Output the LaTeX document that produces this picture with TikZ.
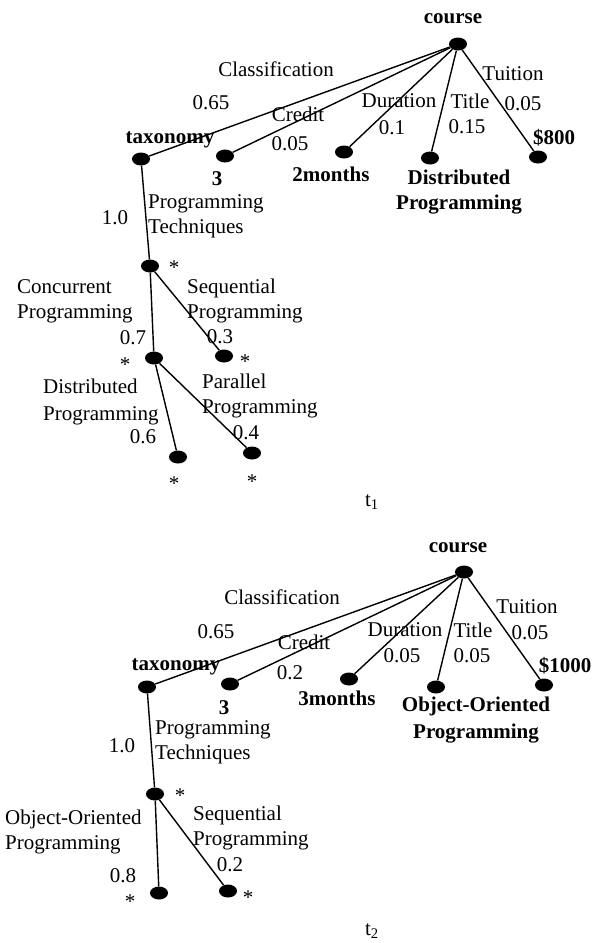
\documentclass[tikz,border=0pt]{standalone}
\usepackage{fontspec}
\setmainfont{Liberation Serif}
\usetikzlibrary{shapes.geometric}
\newcommand\fsz{\fontsize{21}{25}\selectfont}
\tikzset{
  dot/.style={ellipse, fill=black, draw=none, minimum width=18pt, minimum height=13pt, inner sep=0pt},
  lbl/.style={inner sep=0pt, anchor=base, font=\fsz},
  blbl/.style={inner sep=0pt, anchor=base, font=\fsz\bfseries},
  mlbl/.style={inner sep=0pt, anchor=north west, align=left, font=\fsz},
  edge/.style={line width=1.4pt}
}
\begin{document}
\begin{tikzpicture}[x=1pt,y=-1pt]
\useasboundingbox (0,0) rectangle (600,943);
% ---------------- Tree 1 ----------------
\node[dot] (c1) at (458,44) {};
\node[dot] (tax1) at (141,159) {};
\node[dot] (three1) at (225,156) {};
\node[dot] (dur1) at (344,152) {};
\node[dot] (tit1) at (430,158) {};
\node[dot] (tui1) at (538,157) {};
\node[dot] (pt1) at (150,266) {};
\node[dot] (cp1) at (154,358) {};
\node[dot] (sp1) at (224,356) {};
\node[dot] (dp1) at (178,457) {};
\node[dot] (pp1) at (252,453) {};
\draw[edge] (c1) -- (tax1);
\draw[edge] (c1) -- (three1);
\draw[edge] (c1) -- (dur1);
\draw[edge] (c1) -- (tit1);
\draw[edge] (c1) -- (tui1);
\draw[edge] (tax1) -- (pt1);
\draw[edge] (pt1) -- (cp1);
\draw[edge] (pt1) -- (sp1);
\draw[edge] (cp1) -- (dp1);
\draw[edge] (cp1) -- (pp1);
\node[blbl] (tc1) at (453,23) {course};
\node[blbl] (ttax1) at (170,143) {taxonomy};
\node[blbl] (tthree1) at (217,185) {3};
\node[blbl] (tdur1) at (331,181) {2months};
\node[inner sep=0pt, anchor=north, align=center, font=\fsz\bfseries] (ttit1) at (459,170) {Distributed\\Programming};
\node[blbl] (ttui1) at (554,144) {\$800};
\node[lbl] (l1a) at (276,76) {Classification};
\node[lbl] (l1b) at (211,109) {0.65};
\node[lbl] (l1c) at (298,121) {Credit};
\node[lbl] (l1d) at (290,150) {0.05};
\node[lbl] (l1e) at (399,107) {Duration};
\node[lbl] (l1f) at (392,134) {0.1};
\node[lbl] (l1g) at (470,108) {Title};
\node[lbl] (l1h) at (467,133) {0.15};
\node[lbl] (l1i) at (513,80) {Tuition};
\node[lbl] (l1j) at (523,110) {0.05};
\node[mlbl] (l1k) at (148,194) {Programming\\Techniques};
\node[lbl] (l1l) at (115,224) {1.0};
\node[lbl] (s1a) at (174,274) {*};
\node[mlbl] (l1m) at (17,279) {Concurrent\\Programming};
\node[lbl] (l1n) at (133,344) {0.7};
\node[mlbl] (l1o) at (187,279) {Sequential\\Programming};
\node[lbl] (l1p) at (220,343) {0.3};
\node[lbl] (s1b) at (125,371) {*};
\node[lbl] (s1c) at (245,368) {*};
\node[mlbl, font=\fontsize{21}{27}\selectfont] (l1q) at (43,379) {Distributed\\Programming};
\node[lbl] (l1r) at (143,443) {0.6};
\node[mlbl] (l1s) at (202,374) {Parallel\\Programming};
\node[lbl] (l1t) at (246,439) {0.4};
\node[lbl] (s1d) at (174,490) {*};
\node[lbl] (s1e) at (252,488) {*};
\node[lbl] (t1) at (372,506) {t\textsubscript{1}};
% ---------------- Tree 2 ----------------
\node[dot] (c2) at (464,572) {};
\node[dot] (tax2) at (147,687) {};
\node[dot] (three2) at (230,684) {};
\node[dot] (dur2) at (349,679) {};
\node[dot] (tit2) at (436,687) {};
\node[dot] (tui2) at (544,685) {};
\node[dot] (pt2) at (155,794) {};
\node[dot] (oo2) at (159,893) {};
\node[dot] (sp2) at (228,891) {};
\draw[edge] (c2) -- (tax2);
\draw[edge] (c2) -- (three2);
\draw[edge] (c2) -- (dur2);
\draw[edge] (c2) -- (tit2);
\draw[edge] (c2) -- (tui2);
\draw[edge] (tax2) -- (pt2);
\draw[edge] (pt2) -- (oo2);
\draw[edge] (pt2) -- (sp2);
\node[blbl] (tc2) at (458,552) {course};
\node[blbl] (ttax2) at (176,670) {taxonomy};
\node[blbl] (tthree2) at (224,714) {3};
\node[blbl] (tdur2) at (337,705) {3months};
\node[inner sep=0pt, anchor=north, align=center, font=\fontsize{21}{27}\selectfont\bfseries] (ttit2) at (476,697) {Object-Oriented\\Programming};
\node[blbl] (ttui2) at (565,672) {\$1000};
\node[lbl] (l2a) at (282,604) {Classification};
\node[lbl] (l2b) at (216,638) {0.65};
\node[lbl] (l2c) at (304,649) {Credit};
\node[lbl] (l2d) at (290,679) {0.2};
\node[lbl] (l2e) at (405,636) {Duration};
\node[lbl] (l2f) at (402,662) {0.05};
\node[lbl] (l2g) at (473,637) {Title};
\node[lbl] (l2h) at (472,662) {0.05};
\node[lbl] (l2i) at (527,613) {Tuition};
\node[lbl] (l2j) at (530,639) {0.05};
\node[mlbl] (l2k) at (155,720) {Programming\\Techniques};
\node[lbl] (l2l) at (122,752) {1.0};
\node[lbl] (s2a) at (180,802) {*};
\node[mlbl] (l2m) at (5,810) {Object-Oriented\\Programming};
\node[lbl] (l2n) at (123,882) {0.8};
\node[mlbl] (l2o) at (193,806) {Sequential\\Programming};
\node[lbl] (l2p) at (230,871) {0.2};
\node[lbl] (s2b) at (130,908) {*};
\node[lbl] (s2c) at (248,904) {*};
\node[lbl] (t2) at (372,935) {t\textsubscript{2}};
\end{tikzpicture}
\end{document}
